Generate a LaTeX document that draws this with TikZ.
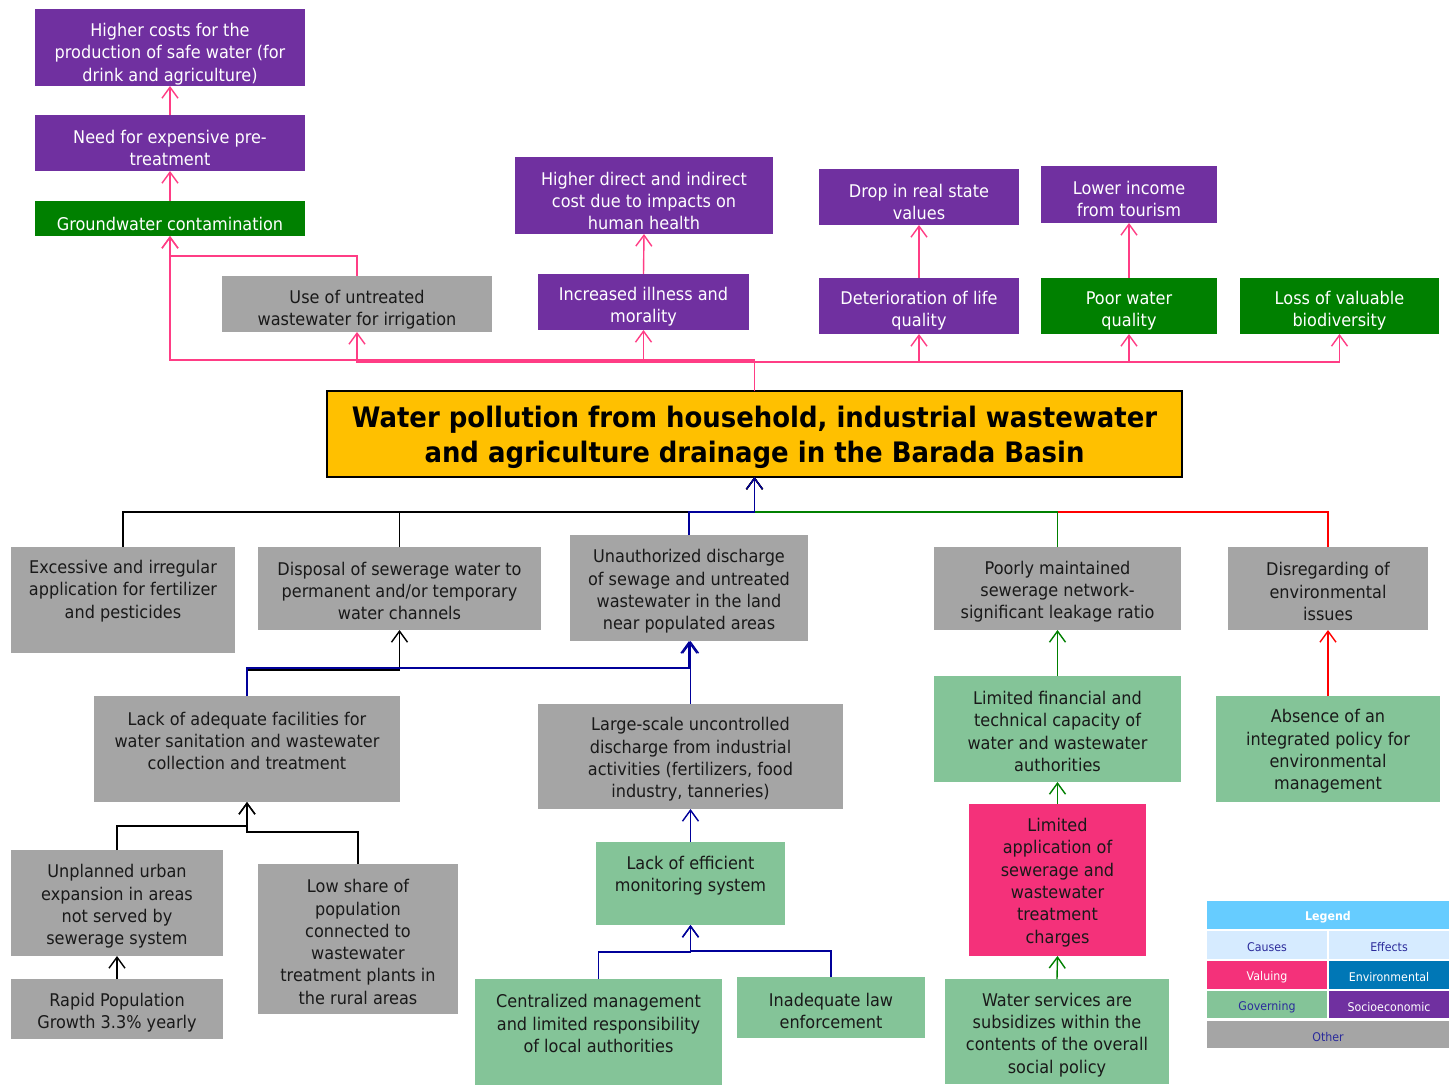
\documentclass[tikz,border=0pt]{standalone}
\usepackage{fontspec}
\setmainfont{DejaVu Sans}[FakeStretch=0.92]
\usetikzlibrary{arrows.meta}
\definecolor{cpu}{HTML}{7030A0}
\definecolor{cgr}{HTML}{008000}
\definecolor{cgy}{HTML}{A5A5A5}
\definecolor{clg}{HTML}{84C498}
\definecolor{cpk}{HTML}{F4317A}
\definecolor{cyl}{HTML}{FFC000}
\definecolor{lpink}{HTML}{FF3D85}
\definecolor{cnavy}{HTML}{000099}
\definecolor{cred}{HTML}{FF0000}
\definecolor{lgh}{HTML}{66CCFF}
\definecolor{lgc}{HTML}{D6EBFF}
\definecolor{cenv}{HTML}{0077B6}
\definecolor{ltx}{HTML}{2B2B9B}
\newcommand\dbox[8]{%
 \node[box,#2,minimum width={#5-#3},minimum height={#6-#4}] (#1) at ({(#3+#5)/2},{(#4+#6)/2}) {};
 \node[txt,#2 txt] (#1-t) at ({(#3+#5)/2},#7) {#8};}
\tikzset{
 box/.style={rectangle,draw=none,inner sep=0pt,outer sep=0pt},
 txt/.style={inner sep=0pt,align=center,yshift=-2pt,font=\fontsize{17.5}{22.3}\selectfont},
 pu/.style={fill=cpu}, pu txt/.style={text=white},
 gr/.style={fill=cgr}, gr txt/.style={text=white},
 gy/.style={fill=cgy}, gy txt/.style={text=black!90},
 lg/.style={fill=clg}, lg txt/.style={text=black!90},
 pk/.style={fill=cpk}, pk txt/.style={text=black!90},
 yl/.style={fill=cyl,draw=black,line width=1.5pt}, yl txt/.style={text=black,font=\bfseries\fontsize{28.2}{35}\selectfont},
 lh/.style={fill=lgh}, lh txt/.style={text=white,font=\bfseries\fontsize{12}{14}\selectfont},
 lc/.style={fill=lgc}, lc txt/.style={text=ltx,font=\fontsize{12}{14}\selectfont},
 lv/.style={fill=cpk}, lv txt/.style={text=white,font=\fontsize{12}{14}\selectfont},
 le/.style={fill=cenv}, le txt/.style={text=white,font=\fontsize{12}{14}\selectfont},
 lgv/.style={fill=clg}, lgv txt/.style={text=ltx,font=\fontsize{12}{14}\selectfont},
 ls/.style={fill=cpu}, ls txt/.style={text=white,font=\fontsize{12}{14}\selectfont},
 lo/.style={fill=cgy}, lo txt/.style={text=ltx,font=\fontsize{12}{14}\selectfont},
 conn/.style={line width=1.4pt,-{Straight Barb[length=11pt,width=16pt]}},
 lpk/.style={conn,draw=lpink},
 lbk/.style={conn,draw=black},
 lnv/.style={conn,draw=cnavy},
 lgn/.style={conn,draw=cgr},
 lrd/.style={conn,draw=cred},
}
\begin{document}
\begin{tikzpicture}[x=1pt,y=-1pt]
\fill[white] (0,0) rectangle (1449,1086);
\useasboundingbox (0,0) rectangle (1449,1086);
% effects
\dbox{hc}{pu}{35}{9}{305}{86}{52}{Higher costs for the\\production of safe water (for\\drink and agriculture)}
\dbox{need}{pu}{35}{115}{305}{171}{146}{Need for expensive pre-\\treatment}
\dbox{gw}{gr}{35}{201}{305}{236}{221.5}{Groundwater contamination}
\dbox{use}{gy}{222}{276}{492}{332}{308}{Use of untreated\\wastewater for irrigation}
\dbox{hdc}{pu}{515}{157}{773}{234}{199}{Higher direct and indirect\\cost due to impacts on\\human health}
\dbox{ill}{pu}{538}{274}{749}{330}{305}{Increased illness and\\morality}
\dbox{drop}{pu}{819}{169}{1019}{225}{200}{Drop in real state\\values}
\dbox{det}{pu}{819}{278}{1019}{334}{309}{Deterioration of life\\quality}
\dbox{lowinc}{pu}{1041}{166}{1217}{223}{197}{Lower income\\from tourism}
\dbox{poor}{gr}{1041}{278}{1217}{334}{309}{Poor water\\quality}
\dbox{loss}{gr}{1240}{278}{1439}{334}{309}{Loss of valuable\\biodiversity}
% main
\dbox{main}{yl}{327}{391}{1182}{477}{435.5}{Water pollution from household, industrial wastewater\\and agriculture drainage in the Barada Basin}
% causes
\dbox{exc}{gy}{11}{547}{235}{653}{589}{Excessive and irregular\\application for fertilizer\\and pesticides}
\dbox{disp}{gy}{258}{547}{541}{630}{589}{Disposal of sewerage water to\\permanent and/or temporary\\water channels}
\dbox{unauth}{gy}{570}{535}{808}{641}{589.5}{Unauthorized discharge\\of sewage and untreated\\wastewater in the land\\near populated areas}
\dbox{poorly}{gy}{934}{547}{1181}{630}{589.5}{Poorly maintained\\sewerage network-\\significant leakage ratio}
\dbox{disreg}{gy}{1228}{547}{1428}{630}{589.5}{Disregarding of\\environmental\\issues}
\dbox{lk}{gy}{94}{696}{400}{802}{739}{Lack of adequate facilities for\\water sanitation and wastewater\\collection and treatment}
\dbox{large}{gy}{538}{704}{843}{809}{757.5}{Large-scale uncontrolled\\discharge from industrial\\activities (fertilizers, food\\industry, tanneries)}
\dbox{limfin}{lg}{934}{676}{1181}{782}{729.5}{Limited financial and\\technical capacity of\\water and wastewater\\authorities}
\dbox{absn}{lg}{1216}{696}{1440}{802}{749.5}{Absence of an\\integrated policy for\\environmental\\management}
\dbox{unpl}{gy}{11}{850}{223}{956}{904.5}{Unplanned urban\\expansion in areas\\not served by\\sewerage system}
\dbox{rapid}{gy}{11}{979}{223}{1039}{1010.5}{Rapid Population\\Growth 3.3\% yearly}
\dbox{lowsh}{gy}{258}{864}{458}{1014}{940}{Low share of\\population\\connected to\\wastewater\\treatment plants in\\the rural areas}
\dbox{eff}{lg}{596}{842}{785}{925}{873.5}{Lack of efficient\\monitoring system}
\dbox{cent}{lg}{475}{979}{722}{1085}{1021.5}{Centralized management\\and limited responsibility\\of local authorities}
\dbox{inad}{lg}{737}{977}{925}{1038}{1009}{Inadequate law\\enforcement}
\dbox{limapp}{pk}{969}{804}{1146}{956}{880.5}{Limited\\application of\\sewerage and\\wastewater\\treatment\\charges}
\dbox{water}{lg}{945}{979}{1169}{1084}{1033}{Water services are\\subsidizes within the\\contents of the overall\\social policy}
% legend
\dbox{lgd}{lh}{1207}{901}{1449}{929}{915.5}{Legend}
\dbox{lcau}{lc}{1207}{931}{1327}{959}{945.5}{Causes}
\dbox{leff}{lc}{1329}{931}{1449}{959}{945.5}{Effects}
\dbox{lval}{lv}{1207}{961}{1327}{989}{975.5}{Valuing}
\dbox{lenv}{le}{1329}{961}{1449}{989}{975.5}{Environmental}
\dbox{lgov}{lgv}{1207}{991}{1327}{1018}{1005}{Governing}
\dbox{lsoc}{ls}{1329}{991}{1449}{1018}{1005}{Socioeconomic}
\dbox{loth}{lo}{1207}{1021}{1449}{1048}{1035}{Other}
% effect connectors
\draw[lpk] (gw.north) -- (need.south);
\draw[lpk] (need.north) -- (hc.south);
\draw[lpk] (use.north) -- ++(0,-20) -| (gw.south);
\draw[lpk] (main.north) -- ++(0,-31) -| (gw.south);
\draw[lpk] (main.north) -- ++(0,-29) -| (use.south);
\draw[lpk] (main.north) -- ++(0,-29) -| (ill.south);
\draw[lpk] (main.north) -- ++(0,-29) -| (det.south);
\draw[lpk] (main.north) -- ++(0,-29) -| (poor.south);
\draw[lpk] (main.north) -- ++(0,-29) -| (loss.south);
\draw[lpk] (ill.north) -- (hdc.south);
\draw[lpk] (det.north) -- (drop.south);
\draw[lpk] (poor.north) -- (lowinc.south);
% cause connectors
\draw[lrd] (disreg.north) -- ++(0,-35) -| (main.south);
\draw[lgn] (poorly.north) -- ++(0,-35) -| (main.south);
\draw[lbk] (exc.north) -- ++(0,-35) -| (main.south);
\draw[lbk] (disp.north) -- ++(0,-35) -| (main.south);
\draw[lnv] (unauth.north) -- ++(0,-23) -| (main.south);
\draw[lbk] (lk.north) -- ++(0,-26) -| (disp.south);
\draw[lnv] (lk.north) -- ++(0,-28) -| (unauth.south);
\draw[lnv] (large.north) -- (large.north |- unauth.south);
\draw[lbk] (unpl.north) -- ++(0,-24) -| (lk.south);
\draw[lbk] (lowsh.north) -- ++(0,-32) -| (lk.south);
\draw[lbk] (rapid.north) -- (unpl.south);
\draw[lnv] (eff.north) -- (eff.north |- large.south);
\draw[lnv] (cent.north) -- ++(0,-27) -| (eff.south);
\draw[lnv] (inad.north) -- ++(0,-26) -| (eff.south);
\draw[lgn] (limfin.north) -- (poorly.south);
\draw[lgn] (limapp.north) -- (limfin.south);
\draw[lgn] (water.north) -- (limapp.south);
\draw[lrd] (absn.north) -- (disreg.south);
\end{tikzpicture}
\end{document}
